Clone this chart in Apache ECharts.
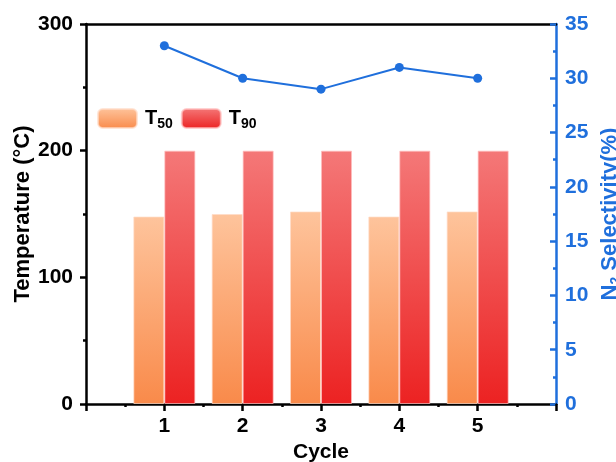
<!DOCTYPE html>
<html><head><meta charset="utf-8">
<script src="https://cdn.jsdelivr.net/npm/echarts@6/dist/echarts.min.js"></script>
<style>html,body{margin:0;padding:0;background:#fff}#c{width:616px;height:462px}</style>
</head><body><div id="c"></div>
<script>
const categories = ['', '1', '2', '3', '4', '5', ''];
const t50 = ['-', 148, 150, 152, 148, 152, '-'];
const t90 = ['-', 200, 200, 200, 200, 200, '-'];
const selectivity = ['-', 33, 30, 29, 31, 30, '-'];
const xTicks = [1, 2, 3, 4, 5];

const FONT = 'Arial, "Liberation Sans", sans-serif';
const BLUE = '#1f6fdc';
const chart = echarts.init(document.getElementById('c'));
const grad = (a, b) => ({type: 'linear', x: 0, y: 0, x2: 0, y2: 1, colorStops: [{offset: 0, color: a}, {offset: 1, color: b}]});
const rich = {
  a: {fontFamily: FONT, fontWeight: 'bold', fontSize: 20, color: '#000', padding: [0, 0, 0, 3]},
  b: {fontFamily: FONT, fontWeight: 'bold', fontSize: 14, color: '#000', padding: [12, 0, 0, 0]}
};
const lbl = (c) => ({fontFamily: FONT, fontWeight: 'bold', fontSize: 21, color: c});
chart.setOption({
  animation: false,
  grid: {left: 86, right: 60, top: 24, bottom: 58, outerBoundsMode: 'none', containLabel: false},
  legend: {
    left: 92, top: 103, itemWidth: 39, itemHeight: 19, itemGap: 8,
    data: ['T50', 'T90'],
    formatter: n => '{a|T}{b|' + n.slice(1) + '}',
    textStyle: {rich: rich}
  },
  xAxis: [
    {
      type: 'value', position: 'bottom', min: 0, max: 6, interval: 1,
      name: 'Cycle', nameLocation: 'middle', nameGap: 37,
      nameTextStyle: lbl('#000'),
      axisLine: {show: true, onZero: false, lineStyle: {color: '#000', width: 2.5}},
      axisTick: {show: true, length: 7, lineStyle: {color: '#000', width: 2.5}},
      minorTick: {show: true, splitNumber: 2, length: 3, lineStyle: {color: '#000', width: 2.5}},
      splitLine: {show: false},
      axisLabel: Object.assign({margin: 12, formatter: v => xTicks.indexOf(v) >= 0 ? String(v) : ''}, lbl('#000')),
      showMinLabel: false, showMaxLabel: false
    },
    {
      type: 'category', position: 'bottom', data: categories, boundaryGap: false, show: false,
      axisLine: {onZero: false}
    },
    {
      type: 'value', position: 'top', min: 0, max: 6,
      axisLine: {show: true, onZero: false, lineStyle: {color: '#000', width: 2.5}},
      axisTick: {show: false}, axisLabel: {show: false}, splitLine: {show: false}
    }
  ],
  yAxis: [
    {
      type: 'value', position: 'left', min: 0, max: 300, interval: 100,
      name: 'Temperature (°C)', nameLocation: 'middle', nameGap: 52, nameRotate: 90,
      nameMoveOverlap: false,
      nameTextStyle: {fontFamily: FONT, fontWeight: 'bold', fontSize: 22, color: '#000'},
      axisLine: {show: true, onZero: false, lineStyle: {color: '#000', width: 2.5}},
      axisTick: {show: true, length: 6, lineStyle: {color: '#000', width: 2.5}},
      minorTick: {show: true, splitNumber: 2, length: 3, lineStyle: {color: '#000', width: 2.5}},
      splitLine: {show: false},
      axisLabel: Object.assign({margin: 13}, lbl('#000'))
    },
    {
      type: 'value', position: 'right', min: 0, max: 35, interval: 5,
      name: '{a|N}{b|2}{a| Selectivity(%)}', nameLocation: 'middle', nameGap: 37, nameRotate: 90,
      nameTextStyle: {rich: {
        a: {fontFamily: FONT, fontWeight: 'bold', fontSize: 22, color: BLUE},
        b: {fontFamily: FONT, fontWeight: 'bold', fontSize: 14, color: BLUE, padding: [12, 0, 0, 0]}
      }},
      axisLine: {show: true, onZero: false, lineStyle: {color: BLUE, width: 2.5}},
      axisTick: {show: true, inside: true, length: 6, lineStyle: {color: BLUE, width: 2.5}},
      minorTick: {show: true, splitNumber: 2, length: 3, lineStyle: {color: BLUE, width: 2.5}},
      splitLine: {show: false},
      axisLabel: Object.assign({margin: 9}, lbl(BLUE))
    }
  ],
  series: [
    {
      name: 'T50', type: 'bar', xAxisIndex: 1, yAxisIndex: 0, data: t50,
      barWidth: 31, barGap: '0%',
      itemStyle: {color: grad('#fec49c', '#f98a4a'), borderColor: 'rgba(255,220,200,0.7)', borderWidth: 1}
    },
    {
      name: 'T90', type: 'bar', xAxisIndex: 1, yAxisIndex: 0, data: t90,
      barWidth: 31, barGap: '0%',
      itemStyle: {color: grad('#f47878', '#ec2222'), borderColor: 'rgba(255,190,190,0.7)', borderWidth: 1}
    },
    {
      name: 'N2', type: 'line', xAxisIndex: 1, yAxisIndex: 1, data: selectivity, z: 5,
      symbol: 'circle', symbolSize: 9, connectNulls: true,
      lineStyle: {color: BLUE, width: 2}, itemStyle: {color: BLUE}
    }
  ]
});
</script></body></html>
